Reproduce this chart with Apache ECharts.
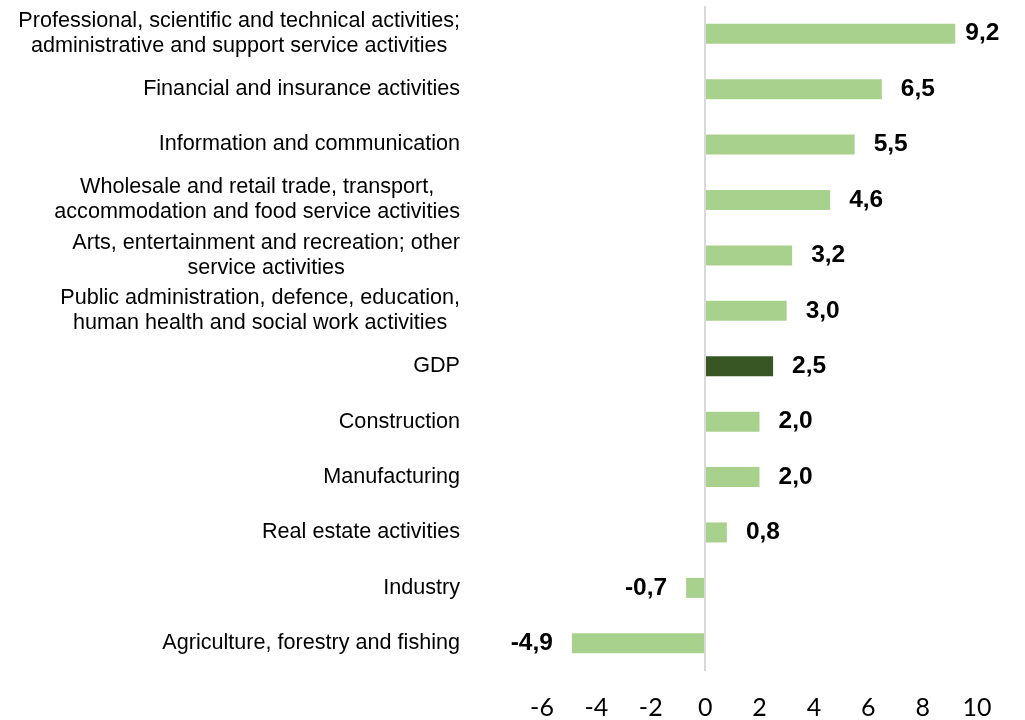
<!DOCTYPE html>
<html><head><meta charset="utf-8">
<script src="https://cdn.jsdelivr.net/npm/echarts@6/dist/echarts.min.js"></script>
<style>html,body{margin:0;padding:0;background:#fff}#c{width:1025px;height:720px}</style>
</head><body><div id="c"></div>
<script>
const categories = [
  "Professional, scientific and technical activities;\nadministrative and support service activities",
  "Financial and insurance activities",
  "Information and communication",
  "Wholesale and retail trade, transport,\naccommodation and food service activities",
  "Arts, entertainment and recreation; other\nservice activities",
  "Public administration, defence, education,\nhuman health and social work activities",
  "GDP",
  "Construction",
  "Manufacturing",
  "Real estate activities",
  "Industry",
  "Agriculture, forestry and fishing"
];
const values = [9.2, 6.5, 5.5, 4.6, 3.2, 3.0, 2.5, 2.0, 2.0, 0.8, -0.7, -4.9];
const highlight = "GDP";
const xTicks = [-6, 10, 2];

const FONT = "'Liberation Sans', Arial, sans-serif";
const chart = echarts.init(document.getElementById('c'));
const data = values.map((v, i) => {
  const item = {
    value: v,
    itemStyle: { color: categories[i] === highlight ? '#375623' : '#A9D18E' }
  };
  if (v < 0) item.label = { position: 'left', distance: 19 };
  else if (v > 9) item.label = { distance: 10 };
  return item;
});
chart.setOption({
  animation: false,
  grid: { left: 542, right: 48, top: 6, bottom: 48, containLabel: false },
  xAxis: {
    type: 'value', min: xTicks[0], max: xTicks[1], interval: xTicks[2],
    axisLine: { show: false }, axisTick: { show: false }, splitLine: { show: false },
    axisLabel: { fontFamily: "Lato, 'Open Sans', sans-serif", fontSize: 25, color: '#000', margin: 24 }
  },
  yAxis: {
    type: 'category', data: categories, inverse: true,
    axisLine: { show: false, onZero: false }, axisTick: { show: false },
    axisLabel: {
      margin: 82, align: 'right',
      formatter: v => v.split('\n').map(s => '{a|' + s + '}').join('\n'),
      rich: { a: { fontFamily: FONT, fontSize: 21.6, color: '#000', align: 'center', lineHeight: 25 } }
    }
  },
  series: [{
    type: 'bar', data: data, barWidth: 20,
    label: {
      show: true, position: 'right', distance: 19,
      fontFamily: FONT, fontSize: 24.5, fontWeight: 'bold', color: '#000',
      formatter: p => p.value.toFixed(1).replace('.', ',')
    },
    markLine: {
      silent: true, symbol: 'none', label: { show: false },
      lineStyle: { color: '#D9D9D9', width: 2, type: 'solid' },
      data: [{ xAxis: 0 }]
    }
  }]
});
</script></body></html>
